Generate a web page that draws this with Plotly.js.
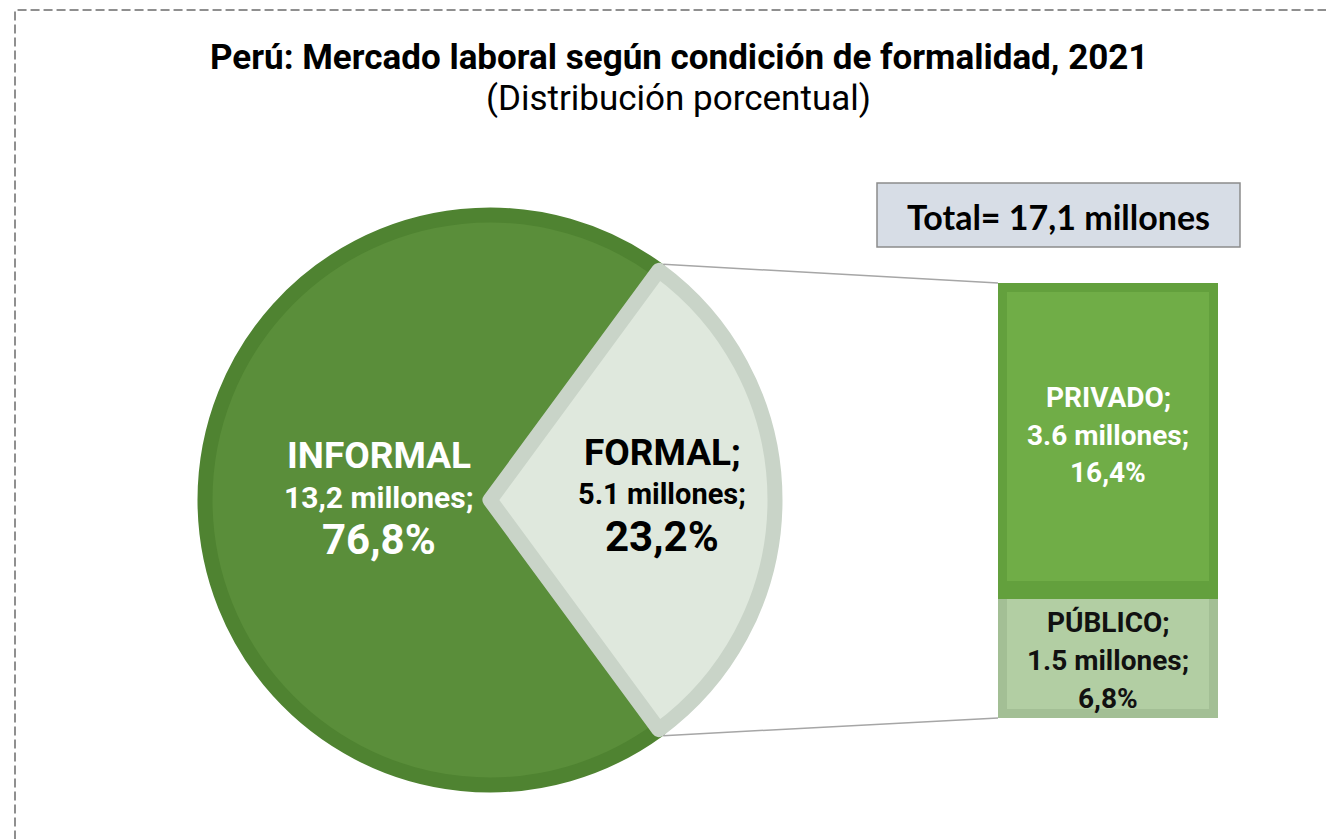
<!DOCTYPE html>
<html>
<head>
<meta charset="utf-8">
<script src="https://cdn.plot.ly/plotly-3.0.1.min.js"></script>
<style>
  html, body { margin: 0; padding: 0; background: #ffffff; }
  #graph { width: 1326px; height: 839px; }
</style>
</head>
<body>
<div id="graph"></div>
<script>
// pie: slices as drawn in the picture (formal = privado + publico = 5.1)
var pieLabels = ['INFORMAL', 'FORMAL'];
var pieMillones = [12.0, 5.1];
var pieMillText = ['13,2 millones;', '5.1 millones;'];
var piePctText = ['76,8%', '23,2%'];

// bar (stacked from the bottom)
var barLabels = ['PÚBLICO;', 'PRIVADO;'];
var barMillones = [1.5, 3.6];
var barMillText = ['1.5 millones;', '3.6 millones;'];
var barPctText = ['6,8%', '16,4%'];

var totalText = 'Total= 17,1 millones';

var W = 1326, H = 839;
var FONT = 'Roboto, "Noto Sans", sans-serif';

function px(x) { return x / W; }
function py(y) { return 1 - y / H; }

// pie geometry (pixels)
var pieCx = 490, pieCy = 500, pieLine = 15, pieR = 285;
var pieDomain = {
    x: [px(pieCx - pieR), px(pieCx + pieR)],
    y: [py(pieCy + pieR), py(pieCy - pieR)]
};

var sum = pieMillones[0] + pieMillones[1];
var halfFormal = 180 * pieMillones[1] / sum;   // half the formal slice, degrees

var pieTrace = {
    type: 'pie',
    labels: pieLabels,
    values: pieMillones,
    sort: false,
    direction: 'clockwise',
    rotation: 90 + halfFormal,
    textinfo: 'none',
    hoverinfo: 'label+value',
    showlegend: false,
    domain: pieDomain,
    marker: {
        colors: ['#5a8e3a', '#dfe8dd'],
        line: {color: ['#4f8331', '#c9d4c8'], width: pieLine}
    }
};

// bar geometry (outer pixels); the stroke is clipped at the plot edge
var barLine = 18;
var barL = 998, barR = 1218, barT = 283, barB = 718;
var barFill = ['#b2cea3', '#70ad47'];
var barEdge = ['#a3bf95', '#63a03d'];

var barTraces = barLabels.map(function (lab, i) {
    return {
        type: 'bar',
        x: [0],
        y: [barMillones[i]],
        width: [1],
        name: lab,
        showlegend: false,
        hoverinfo: 'y',
        marker: {color: barFill[i], line: {color: barEdge[i], width: barLine}}
    };
});

var barTotal = barMillones[0] + barMillones[1];

function note(text, x, y, size, color, family) {
    return {text: text, x: x, y: y, xref: 'paper', yref: 'paper', showarrow: false,
            xanchor: 'center', yanchor: 'middle',
            font: {family: family || FONT, size: size, color: color}};
}

var annotations = [
    note('<b>Perú: Mercado laboral según condición de formalidad, 2021</b>', px(678.5), py(57), 35, '#000000'),
    note('(Distribución porcentual)', px(678), py(98), 35, '#000000'),
    note('<b>' + totalText + '</b>', px(1058.5), py(216), 34, '#000000', 'Lato, "Open Sans", sans-serif')
];

// pie labels
var pieTextPos = [[379, 455, 497, 539], [662, 452, 494, 536]];
var pieTextCol = ['#ffffff', '#000000'];
var pieTextSize = [[37, 30, 42], [37, 29, 42]];
pieLabels.forEach(function (lab, i) {
    var p = pieTextPos[i];
    var lines = [lab + (i === 1 ? ';' : ''), pieMillText[i], piePctText[i]];
    lines.forEach(function (t, k) {
        annotations.push(note('<b>' + t + '</b>', px(p[0]), py(p[k + 1]), pieTextSize[i][k], pieTextCol[i]));
    });
});

// bar labels, centred on each segment
var barTextCol = ['#111111', '#ffffff'];
var barShift = [[32, -6, -44], [39, 1, -36]];
var base = 0;
barLabels.forEach(function (lab, i) {
    var mid = base + barMillones[i] / 2;
    base += barMillones[i];
    [lab, barMillText[i], barPctText[i]].forEach(function (t, k) {
        annotations.push({
            text: '<b>' + t + '</b>', x: 0, y: mid, yshift: barShift[i][k],
            xref: 'x', yref: 'y', showarrow: false, xanchor: 'center', yanchor: 'middle',
            font: {family: FONT, size: 28, color: barTextCol[i]}
        });
    });
});

// connector lines from the formal slice edges to the bar corners
var edgeR = pieR + pieLine / 2;
var a = halfFormal * Math.PI / 180;
var topPt = [pieCx + edgeR * Math.cos(a), pieCy - edgeR * Math.sin(a)];
var botPt = [pieCx + edgeR * Math.cos(a), pieCy + edgeR * Math.sin(a)];

var shapes = [
    {type: 'rect', xref: 'paper', yref: 'paper', x0: px(15), x1: 1.05, y0: -0.05, y1: py(10),
     line: {color: '#8f8f8f', width: 2, dash: '9px,4px'}, fillcolor: 'rgba(0,0,0,0)'},
    {type: 'rect', xref: 'paper', yref: 'paper', x0: px(877), x1: px(1240), y0: py(247), y1: py(183),
     line: {color: '#8c8c8c', width: 1.5}, fillcolor: '#d7dde6', layer: 'below'},
    {type: 'line', xref: 'paper', yref: 'paper', x0: px(topPt[0]), y0: py(topPt[1]), x1: px(barL), y1: py(barT),
     line: {color: '#a6a6a6', width: 1.5}},
    {type: 'line', xref: 'paper', yref: 'paper', x0: px(botPt[0]), y0: py(botPt[1]), x1: px(barL), y1: py(barB),
     line: {color: '#a6a6a6', width: 1.5}}
];

var layout = {
    width: W,
    height: H,
    margin: {l: 0, r: 0, t: 0, b: 0},
    paper_bgcolor: '#ffffff',
    plot_bgcolor: 'rgba(0,0,0,0)',
    barmode: 'stack',
    showlegend: false,
    xaxis: {domain: [px(barL), px(barR)], range: [-0.5, 0.5], visible: false, fixedrange: true},
    yaxis: {domain: [py(barB), py(barT)], range: [0, barTotal], visible: false, fixedrange: true},
    annotations: annotations,
    shapes: shapes
};

Plotly.newPlot('graph', [pieTrace].concat(barTraces), layout, {displayModeBar: false, staticPlot: true});
</script>
</body>
</html>
